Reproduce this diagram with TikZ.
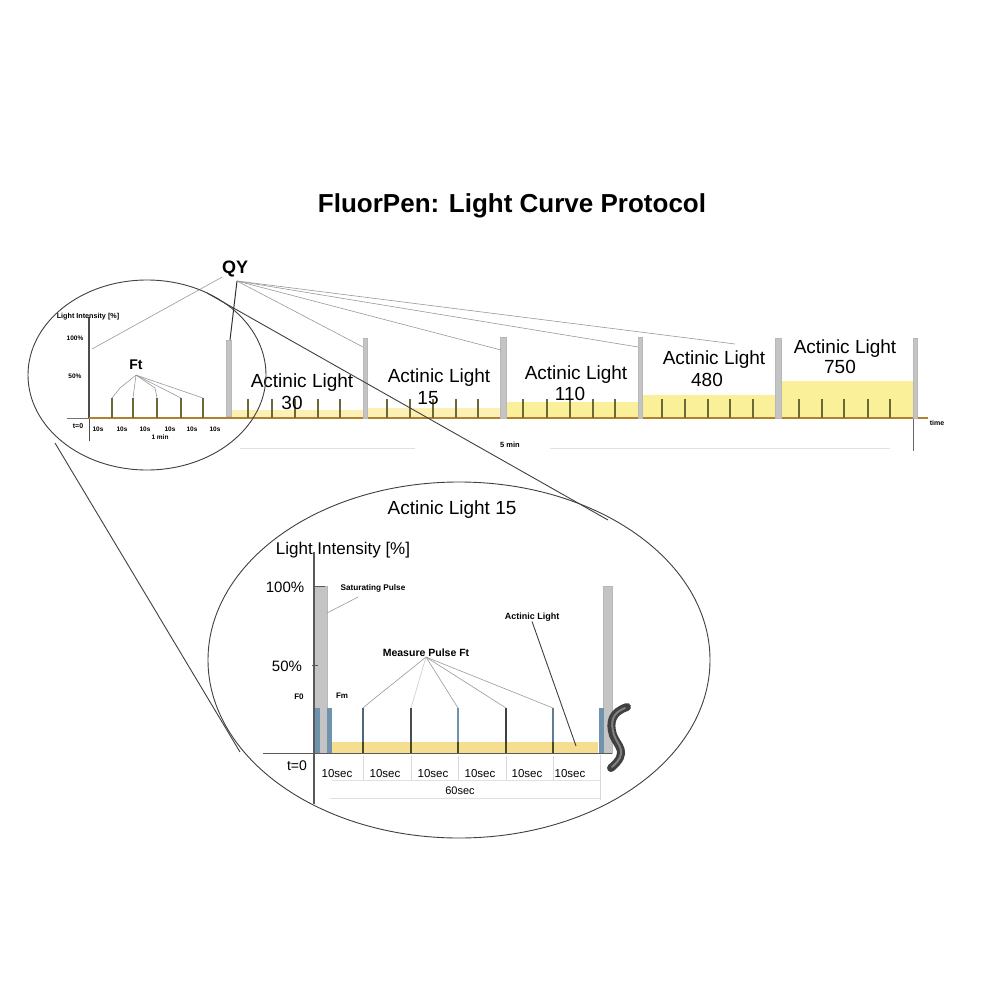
\documentclass[tikz,border=0pt]{standalone}
\usepackage{fontspec}
\setmainfont{Liberation Sans}
\usetikzlibrary{positioning,shapes.geometric}
\definecolor{axisbrown}{HTML}{B0822E}
\definecolor{lightyellow}{HTML}{FBF09A}
\definecolor{paleyellow}{HTML}{FCF0B4}
\definecolor{insetyellow}{HTML}{F5DE90}
\definecolor{pulsegray}{HTML}{C4C4C4}
\definecolor{tickolive}{HTML}{6A6A38}
\definecolor{tickblue}{HTML}{6F93AC}
\newcommand{\pxfont}[1]{\fontsize{#1}{#1}\selectfont}
\tikzset{
    lbl/.style={inner sep=0pt,font=\pxfont{#1}},
    lbl/.default=19,
    lens/.style={draw=black!75,line width=0.9pt,ellipse},
    leader/.style={draw=black!40,line width=0.6pt},
    tickmark/.style={draw=tickolive,line width=1.3pt},
    pulsebar/.style={fill=pulsegray,draw=black!28,line width=0.4pt},
    faint/.style={draw=black!12,line width=0.6pt}
}
\begin{document}
\begin{tikzpicture}[x=1pt,y=-1pt]
\useasboundingbox (0,0) rectangle (1000,1000);
\fill[white] (0,0) rectangle (1000,1000);

\node[lbl=26] (title) at (512,206) {\textbf{FluorPen: Light Curve Protocol}};

% yellow steps
\fill[paleyellow] (231,410) rectangle (365,418);
\fill[paleyellow] (365,408) rectangle (503,418);
\fill[lightyellow] (503,402) rectangle (640,418);
\fill[lightyellow] (640,395) rectangle (778,418);
\fill[lightyellow] (778,381) rectangle (915,418);

% overview axes
\draw[draw=black!70,line width=1.6pt] (89,317) coordinate (startbar) -- (89,418);
\draw[draw=black!70,line width=0.7pt] (89,418) -- (89,441);
\draw[draw=black!60,line width=0.7pt] (913,418) -- (913,451);
\draw[draw=black!55,line width=0.7pt] (67,418) -- (89,418);
\draw[draw=axisbrown,line width=1.6pt] (89,418) -- (928,418);
\draw[faint] (240,448) -- (415,448);
\draw[faint] (550,448) -- (890,448);

% saturating pulses
\draw[pulsebar] (226,340) rectangle (231,416);
\coordinate (qytop) at (237,281);
\draw[draw=black!80,line width=1pt] (230,340) -- (qytop);
\draw[pulsebar] (363,338) rectangle (367,418);
\draw[pulsebar] (500,337) rectangle (506,418);
\draw[pulsebar] (638,337) rectangle (642,418);
\draw[pulsebar] (775,338) rectangle (781,418);
\draw[pulsebar] (913,338) rectangle (917,418);

% overview ticks
\foreach \x [count=\i] in {112,133,157,181,203} {
    \draw[tickmark] (\x,398) coordinate (ft\i) -- (\x,418);
}
\foreach \x in {248,272,295,318,340,387,410,433,456,478,523,547,570,593,615,662,685,708,730,753,799,822,844,868,890} {
    \draw[tickmark] (\x,399) -- (\x,418);
}

% overview labels
\node[lbl=7.2] (intensity) at (88,317) {\textbf{Light Intensity [\%]}};
\node[lbl=6.5] (full) at (75,338) {\textbf{100\%}};
\node[lbl=6.5] (half) at (75,376) {\textbf{50\%}};
\node[lbl=7] (zero) at (78,426) {\textbf{t=0}};
\foreach \x [count=\i] in {98,122,145,170,192,215} {
    \node[lbl=6.5] (sec\i) at (\x,429) {\textbf{10s}};
}
\node[lbl=6.5] (onemin) at (160,437) {\textbf{1 min}};
\node[lbl=14] (ft) at (136,365) {\textbf{Ft}};
\coordinate[below=5pt of ft] (ftfoot);
\node[lbl=18] (qy) at (235,269) {\textbf{QY}};
\node[lbl=7] (time) at (937,423) {\textbf{time}};
\node[lbl=7.5] (total) at (510,445) {\textbf{5 min}};

\node[lbl] (act1) at (302,383) {Actinic Light};
\node[lbl,below=4pt of act1,xshift=-10pt] (val1) {30};
\node[lbl] (act2) at (439,378) {Actinic Light};
\node[lbl,below=4pt of act2,xshift=-11pt] (val2) {15};
\node[lbl] (act3) at (576,375) {Actinic Light};
\node[lbl,below=3pt of act3,xshift=-6pt] (val3) {110};
\node[lbl] (act4) at (714,360) {Actinic Light};
\node[lbl,below=4pt of act4,xshift=-7pt] (val4) {480};
\node[lbl] (act5) at (845,349) {Actinic Light};
\node[lbl,below=2pt of act5,xshift=-5pt] (val5) {750};

\draw[leader] (startbar) ++(3,32) -- (qy.south west);
\draw[leader] (ftfoot) -- (120,388) -- (ft1);
\draw[leader] (ftfoot) -- (ft2);
\draw[leader] (ftfoot) -- (155,388) -- (ft3);
\draw[leader] (ftfoot) -- (ft4);
\draw[leader] (ftfoot) -- (ft5);
\draw[leader] (qytop) -- (363,347);
\draw[leader] (qytop) -- (501,350);
\draw[leader] (qytop) -- (638,347);
\draw[leader] (qytop) -- (735,344);

% lenses
\node[lens,minimum width=238pt,minimum height=190pt,inner sep=0pt] (small) at (147,375) {};
\node[lens,minimum width=502pt,minimum height=356pt,inner sep=0pt] (big) at (459,660) {};
\draw[draw=black!75,line width=0.9pt] (207,293) -- (608,520);
\draw[draw=black!75,line width=0.9pt] (55,443) -- (240,752);

% inset
\node[lbl] (insettitle) at (452,510) {Actinic Light 15};
\node[lbl=17] (insetaxis) at (343,550) {Light Intensity [\%]};
\node[lbl=15] (hundred) at (285,587) {100\%};
\node[lbl=15] (fifty) at (287,666) {50\%};
\node[lbl=8] (fzero) at (299,697) {\textbf{F0}};
\node[lbl=8] (fmax) at (342,696) {\textbf{Fm}};
\node[lbl=8.2] (satpulse) at (373,588) {\textbf{Saturating Pulse}};
\node[lbl=10.5] (measure) at (426,653) {\textbf{Measure Pulse Ft}};
\node[lbl=9] (actinic) at (532,617) {\textbf{Actinic Light}};
\node[lbl=14] (tzero) at (297,766) {t=0};
\foreach \x [count=\i] in {337,385,433,480,527,570} {
    \node[lbl=11.5] (step\i) at (\x,774) {10sec};
}
\node[lbl=11] (minute) at (460,791) {60sec};

\fill[insetyellow] (332,742) rectangle (598,753);
\draw[pulsebar] (314,586) rectangle (327,753);
\draw[pulsebar] (603,586) rectangle (612,753);
\fill[tickblue] (315,708) rectangle (320,753);
\fill[tickblue] (327,708) rectangle (332,753);
\fill[tickblue] (599,708) rectangle (604,753);
\draw[draw=black!65,line width=1.2pt] (314,552) -- (314,804);
\draw[draw=black!65,line width=0.8pt] (263,753) -- (612,753);
\draw[draw=black!65,line width=0.8pt] (314,586) -- (325,586);
\draw[draw=black!65,line width=0.8pt] (312,665) -- (318,665);

\foreach \x/\c [count=\i] in {363/tickblue!70!black,411/black!70,458/tickblue,506/black!75,553/tickblue!85!black} {
    \draw[draw=\c,line width=2.2pt] (\x,708) coordinate (mp\i) -- (\x,742);
    \draw[draw=tickolive!70!black,line width=2.2pt] (\x,742) -- (\x,753);
    \draw[draw=black!15,line width=0.6pt] (\x,756) -- (\x,780);
}
\draw[faint] (332,780) -- (600,780);
\draw[faint] (330,798) -- (600,798);
\draw[draw=black!15,line width=0.6pt] (600,755) -- (600,800);

\draw[leader] (measure.south) -- (370,702) -- (mp1);
\draw[leader,draw=black!20] (measure.south) -- (mp2);
\draw[leader] (measure.south) -- (mp3);
\draw[leader] (measure.south) -- (mp4);
\draw[leader] (measure.south) -- (mp5);
\draw[leader] (satpulse.south) ++(-15,5) -- (327,613);
\draw[draw=black!75,line width=0.9pt] (actinic.south) -- (576,746);

% axis break
\draw[draw=black!75,line width=8pt,line cap=round] (627,707) .. controls (612,712) and (609,722) .. (613,735) .. controls (617,746) and (630,752) .. (611,768);
\draw[draw=black!50,line width=2pt,line cap=round] (625,708) .. controls (612,713) and (610,722) .. (614,735) .. controls (618,746) and (629,752) .. (612,767);
\end{tikzpicture}
\end{document}
